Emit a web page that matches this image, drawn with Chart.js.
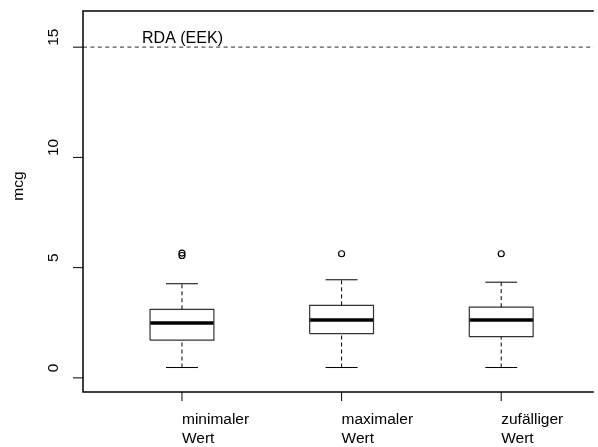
<!DOCTYPE html>
<html>
<head>
<meta charset="utf-8">
<script src="https://cdn.jsdelivr.net/npm/chart.js@4"></script>
<style>
    body { margin: 0; background: #fff; }
    #chart { display: block; }
</style>
</head>
<body>
<canvas id="chart" width="598" height="447"></canvas>
<script>
// data \/
const categories = [["minimaler", "Wert"], ["maximaler", "Wert"], ["zufälliger", "Wert"]];
const lowerWhisker = [0.47, 0.47, 0.47];
const q1 = [1.71, 2.01, 1.87];
const median = [2.49, 2.62, 2.62];
const q3 = [3.11, 3.29, 3.21];
const upperWhisker = [4.27, 4.45, 4.34];
const outliers = [[5.55, 5.66], [5.63], [5.63]];
const yTicks = [0, 5, 10, 15];
const rdaValue = 15;
const rdaLabel = "RDA (EEK)";
const yTitle = "mcg";
// data /\

const FONT = "15.5px 'Liberation Sans', Arial, sans-serif";
const RDA_FONT = "16px 'Liberation Sans', Arial, sans-serif";
const boxHalf = 0.2;
const capHalf = 0.1;
const xMin = 0.38, xMax = 3.58;

// builds the boxes out of line datasets \/
let datasets = [];
function line(points, color, width, dash) {
    return {
        data: points,
        showLine: true,
        borderColor: color,
        borderWidth: width,
        borderDash: dash || [],
        borderCapStyle: "butt",
        pointRadius: 0,
        pointHoverRadius: 0,
        fill: false
    };
}

datasets.push(line([{x: xMin, y: rdaValue}, {x: xMax, y: rdaValue}], "#555", 1.1, [4, 3.4]));

for (let i = 0; i < categories.length; i++) {
    let x = i + 1;
    datasets.push(line([{x: x, y: lowerWhisker[i]}, {x: x, y: q1[i]}], "#000", 1, [4, 3]));
    datasets.push(line([{x: x, y: q3[i]}, {x: x, y: upperWhisker[i]}], "#000", 1, [4, 3]));
    datasets.push(line([{x: x - capHalf, y: lowerWhisker[i]}, {x: x + capHalf, y: lowerWhisker[i]}], "#000", 1));
    datasets.push(line([{x: x - capHalf, y: upperWhisker[i]}, {x: x + capHalf, y: upperWhisker[i]}], "#000", 1));
    datasets.push(line([
        {x: x - boxHalf, y: q1[i]}, {x: x + boxHalf, y: q1[i]},
        {x: x + boxHalf, y: q3[i]}, {x: x - boxHalf, y: q3[i]},
        {x: x - boxHalf, y: q1[i]}
    ], "#333", 1.2));
    datasets.push(line([{x: x - boxHalf, y: median[i]}, {x: x + boxHalf, y: median[i]}], "#000", 3.5));
    datasets.push({
        data: outliers[i].map(v => ({x: x, y: v})),
        showLine: false,
        pointRadius: 3,
        pointHoverRadius: 3,
        pointStyle: "circle",
        pointBorderColor: "#000",
        pointBackgroundColor: "rgba(0,0,0,0)",
        pointBorderWidth: 1.2
    });
}
// builds the boxes /\

// draws the R style axes and texts \/
const axesPlugin = {
    id: "rAxes",
    afterDraw(chart) {
        const ctx = chart.ctx;
        const a = chart.chartArea;
        const xs = chart.scales.x;
        const ys = chart.scales.y;
        ctx.save();
        ctx.strokeStyle = "#000";
        ctx.lineWidth = 1.5;
        ctx.beginPath();
        ctx.moveTo(a.right, a.top);
        ctx.lineTo(a.left, a.top);
        ctx.lineTo(a.left, a.bottom);
        ctx.lineTo(a.right, a.bottom);
        ctx.stroke();

        ctx.fillStyle = "#000";
        ctx.font = FONT;
        ctx.lineWidth = 1;

        // y ticks
        yTicks.forEach(t => {
            let py = ys.getPixelForValue(t);
            ctx.beginPath();
            ctx.moveTo(a.left, py);
            ctx.lineTo(a.left - 10, py);
            ctx.stroke();
            ctx.save();
            ctx.translate(54, py - 10);
            ctx.rotate(-Math.PI / 2);
            ctx.textAlign = "center";
            ctx.textBaseline = "middle";
            ctx.fillText(String(t), 0, 0);
            ctx.restore();
        });

        // y title
        ctx.save();
        ctx.translate(19, 186);
        ctx.rotate(-Math.PI / 2);
        ctx.textAlign = "center";
        ctx.textBaseline = "middle";
        ctx.fillText(yTitle, 0, 0);
        ctx.restore();

        // x ticks and labels
        categories.forEach((lab, i) => {
            let px = xs.getPixelForValue(i + 1);
            ctx.beginPath();
            ctx.moveTo(px, a.bottom);
            ctx.lineTo(px, a.bottom + 9);
            ctx.stroke();
            ctx.textAlign = "left";
            ctx.textBaseline = "alphabetic";
            lab.forEach((l, j) => ctx.fillText(l, px, 424 + j * 19));
        });

        // RDA label
        ctx.font = RDA_FONT;
        ctx.textAlign = "left";
        ctx.textBaseline = "alphabetic";
        ctx.fillText(rdaLabel, xs.getPixelForValue(0.75), ys.getPixelForValue(rdaValue) - 4);
        ctx.restore();
    }
};
// draws the R style axes /\

// chart \/
new Chart(document.getElementById("chart"), {
    type: "scatter",
    data: { datasets: datasets },
    options: {
        responsive: false,
        animation: false,
        layout: { padding: { left: 83, top: 11, right: 0, bottom: 55 } },
        plugins: { legend: { display: false }, tooltip: { enabled: false } },
        scales: {
            x: { type: "linear", min: xMin, max: xMax, display: false },
            y: { type: "linear", min: -0.64, max: 16.64, display: false }
        }
    },
    plugins: [axesPlugin]
});
// chart /\
</script>
</body>
</html>
